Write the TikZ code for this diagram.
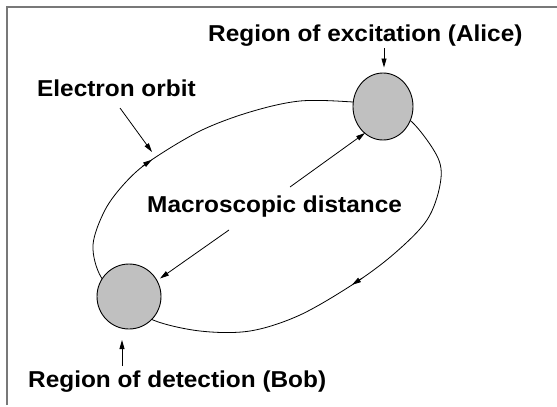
\documentclass[tikz,border=0pt]{standalone}
\usepackage{fontspec}
\setmainfont{Liberation Sans}
\usetikzlibrary{arrows.meta,shapes.geometric}
\begin{document}
\begin{tikzpicture}[x=1pt,y=-1pt,
  lbl/.style={inner sep=0pt, anchor=base west, font=\fontsize{23}{27}\selectfont\bfseries},
  region/.style={ellipse, draw=black, line width=0.9pt, fill={rgb,255:red,192;green,192;blue,192}, inner sep=0pt},
  arr/.style={line width=0.8pt, -{Triangle[length=9pt,width=5pt]}},
  orbitline/.style={line width=0.8pt},
  orbitarr/.style={line width=0.8pt, -{Triangle[length=9pt,width=5pt]}},
  frameline/.style={line width=1.5pt, draw={rgb,255:red,120;green,120;blue,120}}]
\useasboundingbox (0,0) rectangle (557,407);
\fill[white] (0,0) rectangle (557,407);
% frame (left and top edges)
\coordinate (fa) at (7,405);
\coordinate (fb) at (7,7);
\coordinate (fc) at (557,7);
\draw[frameline] (fa) -- (fb) -- (fc);
% electron orbit
\draw[orbitline] plot[smooth cycle, tension=0.55] coordinates {
  (383,106) (412,122) (438,158) (440,185) (427,220) (395,253) (355,283)
  (300,315) (250,331) (200,331) (153,320) (125,300) (101,277) (93,245)
  (105,210) (125,183) (150,161) (200,131) (250,112) (300,101) (353,102)};
% arrowheads on the orbit
\coordinate (o1s) at (142,166.5);
\coordinate (o1e) at (152,159.7);
\draw[orbitarr] (o1s) -- (o1e);
\coordinate (o2s) at (362,278.3);
\coordinate (o2e) at (352,284.8);
\draw[orbitarr] (o2s) -- (o2e);
% regions
\node[region, minimum width=60pt, minimum height=67pt] (alice) at (383,106.5) {};
\node[region, minimum width=64pt, minimum height=65pt] (bob) at (129,296.5) {};
% labels
\node[lbl] (alicetxt) at (208,41) {\scalebox{1.06}[1]{Region of excitation (Alice)}};
\node[lbl] (orbittxt) at (37,96) {\scalebox{1.06}[1]{Electron orbit}};
\node[lbl] (macrotxt) at (147,212) {\scalebox{1.06}[1]{Macroscopic distance}};
\node[lbl] (bobtxt) at (28,387) {\scalebox{1.06}[1]{Region of detection (Bob)}};
% connectors
\coordinate (as) at (384,48);
\coordinate (ae) at (384,67.5);
\draw[arr] (as) -- (ae);
\coordinate (os) at (120,108);
\coordinate (oe) at (152,152);
\draw[arr] (os) -- (oe);
\coordinate (ms1) at (290,187);
\coordinate (me1) at (365,133);
\draw[arr] (ms1) -- (me1);
\coordinate (ms2) at (229,230);
\coordinate (me2) at (160,278.5);
\draw[arr] (ms2) -- (me2);
\coordinate (bs) at (122,366);
\coordinate (be) at (122,340);
\draw[arr] (bs) -- (be);
\end{tikzpicture}
\end{document}
